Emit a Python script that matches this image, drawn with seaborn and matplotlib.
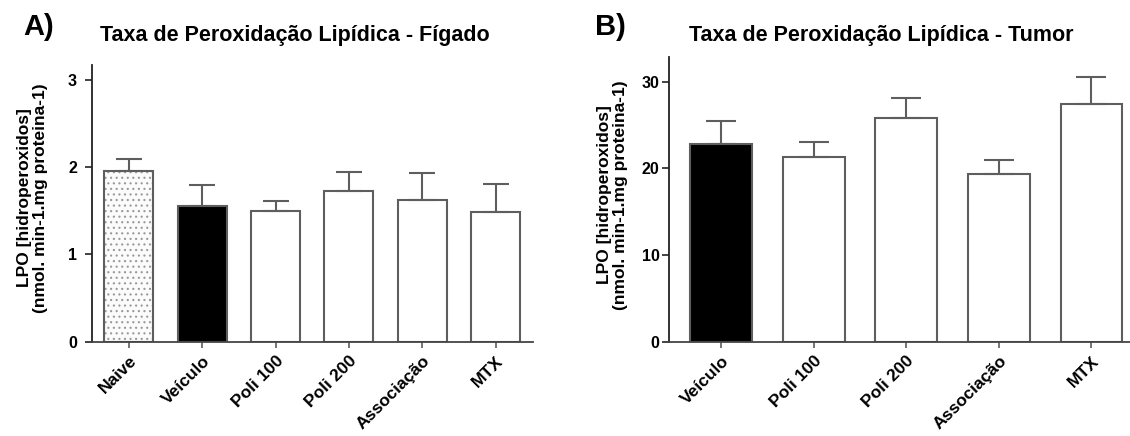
import matplotlib
matplotlib.use("Agg")
import matplotlib.pyplot as plt
import seaborn as sns
import numpy as np

# ---- data ----
categories_a = ["Naive", "Veículo", "Poli 100", "Poli 200", "Associação", "MTX"]
means_a = [1.96, 1.55, 1.50, 1.72, 1.62, 1.49]
sem_a = [0.13, 0.24, 0.11, 0.22, 0.31, 0.31]

categories_b = ["Veículo", "Poli 100", "Poli 200", "Associação", "MTX"]
means_b = [22.87, 21.3, 25.78, 19.38, 27.39]
sem_b = [2.6, 1.78, 2.3, 1.62, 3.19]

yticks_a = [0, 1, 2, 3]
yticks_b = [0, 10, 20, 30]

sns.set_style("ticks")
plt.rcParams["font.family"] = ["Liberation Sans", "DejaVu Sans"]
plt.rcParams["hatch.linewidth"] = 0.8
for k in ["text.color", "axes.labelcolor", "xtick.color", "ytick.color"]:
    plt.rcParams[k] = "black"

W, H = 1130, 436
fig = plt.figure(figsize=(W / 100, H / 100), dpi=100)
axA = fig.add_axes([92 / W, 1 - 341.5 / H, (533 - 92) / W, (341.5 - 65) / H])
axB = fig.add_axes([669 / W, 1 - 341.7 / H, (1130 - 669) / W, (341.7 - 56.7) / H])

edge = "#5e5e5e"
spine = "#222222"


def draw(ax, cats, means, sems, colors, hatches, ylim, yticks, xlim, capsize, ypad):
    sns.barplot(x=cats, y=means, ax=ax, order=cats, width=0.667,
                palette=colors, hue=cats, legend=False,
                edgecolor=edge, linewidth=1.5, errorbar=None, saturation=1)
    for patch, h in zip(ax.patches, hatches):
        if h:
            patch.set_hatch(h)
            try:
                patch._hatch_color = (0.6, 0.6, 0.6, 1.0)
            except Exception:
                pass
    x = np.arange(len(cats))
    ax.errorbar(x, means, yerr=[np.zeros(len(sems)), sems], fmt="none",
                ecolor=edge, elinewidth=1.5, capsize=capsize, capthick=1.5, zorder=1)
    ax.set_ylim(*ylim)
    ax.set_xlim(*xlim)
    ax.set_yticks(yticks)
    ax.set_yticklabels([str(t) for t in yticks], fontsize=11.5, fontweight="bold")
    ax.set_xticks(x)
    ax.set_xticklabels(cats, rotation=45, ha="right", rotation_mode="anchor",
                       fontsize=12.5, fontweight="bold")
    ax.tick_params(axis="y", direction="out", length=4.8, width=1.2, color=spine, pad=ypad)
    ax.tick_params(axis="x", direction="out", length=4.5, width=1.2, color=edge, pad=4)
    for s in ["top", "right"]:
        ax.spines[s].set_visible(False)
    for s in ["left", "bottom"]:
        ax.spines[s].set_linewidth(1.3)
        ax.spines[s].set_color(spine)
    ax.spines["bottom"].set_color("#444444")
    ax.set_ylabel("LPO [hidroperoxidos]\n(nmol. min-1.mg proteina-1)",
                  fontsize=12.5, fontweight="bold", linespacing=1.1)
    ax.set_xlabel("")


colors_a = ["#fbfbfb", "#000000", "#ffffff", "#ffffff", "#ffffff", "#ffffff"]
hatch_a = ["...", None, None, None, None, None]
draw(axA, categories_a, means_a, sem_a, colors_a, hatch_a, (0, 3.17), yticks_a,
     (-0.503, 5.51), 9.7, 6)

colors_b = ["#000000", "#ffffff", "#ffffff", "#ffffff", "#ffffff"]
hatch_b = [None] * 5
draw(axB, categories_b, means_b, sem_b, colors_b, hatch_b, (0, 32.9), yticks_b,
     (-0.562, 4.416), 11, 2)

axA.yaxis.set_label_coords(48 / W, 1 - 198 / H, transform=fig.transFigure)
axB.yaxis.set_label_coords(628 / W, 1 - 195 / H, transform=fig.transFigure)

fig.text(23 / W, 1 - 27 / H, "A)", fontsize=21, fontweight="bold", ha="left", va="center")
fig.text(294.5 / W, 1 - 36 / H, "Taxa de Peroxidação Lipídica - Fígado", fontsize=15.5,
         fontweight="bold", ha="center", va="center")
fig.text(595 / W, 1 - 27 / H, "B)", fontsize=21, fontweight="bold", ha="left", va="center")
fig.text(881 / W, 1 - 36 / H, "Taxa de Peroxidação Lipídica - Tumor", fontsize=15.5,
         fontweight="bold", ha="center", va="center")

fig.savefig("out.png", dpi=100)
